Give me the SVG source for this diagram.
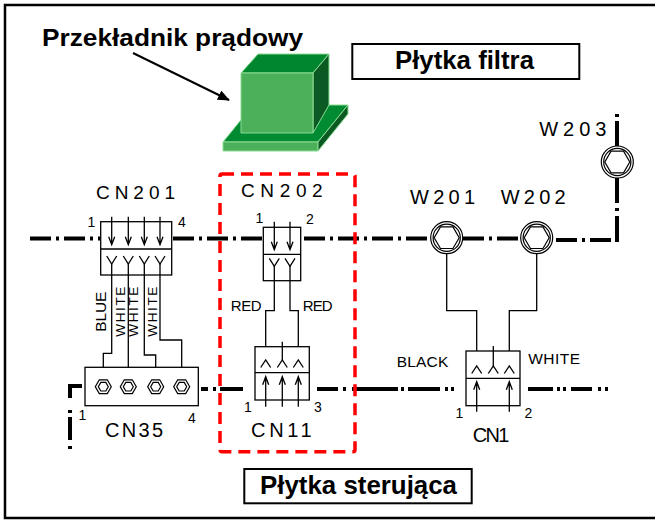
<svg xmlns="http://www.w3.org/2000/svg" width="655" height="526" viewBox="0 0 655 526">
  <defs>
    <style>
      .frame{fill:none;stroke:#000;stroke-width:2.5}
      .title{font-family:"Liberation Sans",Arial,sans-serif;font-weight:bold;fill:#000}
      .lbl{font-family:"Liberation Sans",Arial,sans-serif;fill:#000}
      .box{fill:#fff;stroke:#000;stroke-width:1.3}
      .w{fill:none;stroke:#000;stroke-width:1.3}
      .bus{fill:none;stroke:#000;stroke-width:4}
      .up{stroke-dasharray:21 5 3 5}
      .edge{stroke:#8bdc93;stroke-width:1;stroke-linejoin:round}
      .redbox{fill:none;stroke:#ff0000;stroke-width:3.5;stroke-dasharray:12 7}
    </style>
    <marker id="head" viewBox="0 0 12 10" refX="11" refY="5" markerWidth="12" markerHeight="10" markerUnits="userSpaceOnUse" orient="auto">
      <path d="M0,0 L12,5 L0,10 Z" fill="#000"/>
    </marker>
    <!-- screw terminal on the filter board -->
    <g id="wterm">
      <circle r="16" fill="#fff" stroke="#000" stroke-width="1.2"/>
      <circle r="13.6" fill="none" stroke="#000" stroke-width="1.2"/>
      <polygon points="12.5,0 6.25,10.8 -6.25,10.8 -12.5,0 -6.25,-10.8 6.25,-10.8" fill="none" stroke="#000" stroke-width="1.2"/>
    </g>
    <!-- screw terminal of CN35 -->
    <g id="hexterm">
      <polygon points="8,0 4,6.9 -4,6.9 -8,0 -4,-6.9 4,-6.9" fill="#fff" stroke="#000" stroke-width="1.2"/>
      <polygon points="5,0 2.5,4.3 -2.5,4.3 -5,0 -2.5,-4.3 2.5,-4.3" fill="none" stroke="#000" stroke-width="1.2"/>
    </g>
    <path id="adown" d="M0,0 V28 M-3,20 L0,28 L3,20" fill="none" stroke="#000" stroke-width="1.3"/>
    <path id="aup" d="M0,0 V-30 M-3,-22 L0,-30 L3,-22" fill="none" stroke="#000" stroke-width="1.3"/>
    <path id="yfork" d="M-5,0 L0,8 L5,0" fill="none" stroke="#000" stroke-width="1.3"/>
    <path id="caret" d="M-5,7.5 L0,0 L5,7.5" fill="none" stroke="#000" stroke-width="1.3"/>
  </defs>

  <rect width="655" height="526" fill="#fff"/>
  <path class="frame" d="M656,5 H5 V518 H656"/>

  <!-- current transformer -->
  <g id="ct">
    <polygon class="edge" points="223,142 318,142 348,105 253,105" fill="#008a32"/>
    <polygon class="edge" points="223,142 318,142 318,151 223,151" fill="#4caf5a"/>
    <polygon class="edge" points="318,142 348,105 348,114 318,151" fill="#0b5a23"/>
    <polygon class="edge" points="241,73 313,73 329,54 258,54" fill="#00862f"/>
    <polygon class="edge" points="313,73 329,54 329,105 313,133" fill="#0b5a23"/>
    <polygon class="edge" points="241,73 313,73 313,133 241,133" fill="#4caf5a"/>
  </g>
  <g id="ct-label">
    <text class="title" x="42" y="46" font-size="24" textLength="261" lengthAdjust="spacingAndGlyphs">Przekładnik prądowy</text>
    <line x1="133" y1="53" x2="229" y2="100" stroke="#000" stroke-width="2" marker-end="url(#head)"/>
  </g>

  <g id="filter-board">
    <rect x="352.3" y="44" width="227" height="35" fill="#fff" stroke="#000" stroke-width="2"/>
    <text class="title" x="395" y="69.3" font-size="25" textLength="139" lengthAdjust="spacingAndGlyphs">Płytka filtra</text>
  </g>
  <g id="control-board">
    <rect x="244.3" y="469" width="227.4" height="34.3" fill="#fff" stroke="#000" stroke-width="2"/>
    <text class="title" x="260" y="494.3" font-size="25" textLength="197" lengthAdjust="spacingAndGlyphs">Płytka sterująca</text>
  </g>

  <!-- board outlines (chain lines) and wiring -->
  <g id="connectors">
    <path class="bus up" d="M30,238.5 H100"/>
    <path class="bus up" d="M173,238.5 H262"/>
    <path class="bus up" d="M304,238.5 H430"/>
    <path class="bus up" d="M463,238.5 H520"/>
    <path class="bus up" d="M556,240 H619"/>
    <path class="bus" d="M617,114 V146" stroke-dasharray="3 4 25"/>
    <path class="bus" d="M617,178 V242" stroke-dasharray="25 5 3 5 40"/>

    <path class="bus" d="M82,386 H70 V398"/>
    <path class="bus" d="M70,410 V413 M70,417 V440 M70,446 V449"/>
    <path class="bus" d="M201,389 H243" stroke-dasharray="7 5 3 4 23"/>
    <path class="bus" d="M317,389 H455" stroke-dasharray="21 5 3 6 46 3 3 4 32 5 3 3 3"/>
    <path class="bus" d="M528,389 H610" stroke-dasharray="25 4 3 3 3 5 21 6 3 4 3"/>

    <!-- CN201 to CN35 -->
    <path class="w" d="M111.7,263 V353.3 H103.3 V380"/>
    <path class="w" d="M128.3,263 V380"/>
    <path class="w" d="M144.3,263 V355 H155.7 V380"/>
    <path class="w" d="M160,263 V340 H181.7 V380"/>
    <!-- CN202 to CN11 -->
    <path class="w" d="M274.3,266 V310.7 H265.7 V360"/>
    <path class="w" d="M290,266 V310.7 H298.3 V360"/>
    <!-- W201/W202 to CN1 -->
    <path class="w" d="M446.7,253.7 V310.7 H476.7 V366"/>
    <path class="w" d="M536.7,253.7 V310.7 H509.3 V366"/>

    <rect class="redbox" x="220" y="174" width="135" height="277.7" rx="2"/>
  </g>

  <g id="cn201">
    <rect class="box" x="100.7" y="221.7" width="71" height="53.3"/>
    <line class="w" x1="100.7" y1="249" x2="171.7" y2="249"/>
    <use href="#adown" x="111.7" y="216.7"/>
    <use href="#adown" x="128.3" y="216.7"/>
    <use href="#adown" x="144.3" y="216.7"/>
    <use href="#adown" x="160" y="216.7"/>
    <use href="#yfork" x="111.7" y="256"/>
    <use href="#yfork" x="128.3" y="256"/>
    <use href="#yfork" x="144.3" y="256"/>
    <use href="#yfork" x="160" y="256"/>
    <path class="w" d="M111.7,264 V275 M128.3,264 V275 M144.3,264 V275 M160,264 V275"/>
    <text class="lbl" x="96" y="199.3" font-size="19" textLength="79" lengthAdjust="spacing">CN201</text>
    <text class="lbl" x="87.5" y="226.7" font-size="14">1</text>
    <text class="lbl" x="178" y="226.7" font-size="14">4</text>
    <text class="lbl" font-size="15.5" transform="translate(106,331.7) rotate(-90)" textLength="40" lengthAdjust="spacing">BLUE</text>
    <text class="lbl" font-size="13.5" transform="translate(125,336.7) rotate(-90)" textLength="50" lengthAdjust="spacing">WHITE</text>
    <text class="lbl" font-size="13.5" transform="translate(138.3,336.7) rotate(-90)" textLength="50" lengthAdjust="spacing">WHITE</text>
    <text class="lbl" font-size="13.5" transform="translate(157,336.7) rotate(-90)" textLength="50" lengthAdjust="spacing">WHITE</text>
  </g>

  <g id="cn35">
    <rect class="box" x="85" y="367.3" width="113.3" height="38.4"/>
    <use href="#hexterm" x="103.3" y="386.7"/>
    <use href="#hexterm" x="128.3" y="386.7"/>
    <use href="#hexterm" x="155.7" y="386.7"/>
    <use href="#hexterm" x="181.7" y="386.7"/>
    <text class="lbl" x="78.5" y="420" font-size="14">1</text>
    <text class="lbl" x="188" y="422.7" font-size="14">4</text>
    <text class="lbl" x="105" y="436.7" font-size="20" textLength="58" lengthAdjust="spacing">CN35</text>
  </g>

  <g id="cn202">
    <rect class="box" x="263.3" y="227.3" width="37.4" height="53.4"/>
    <line class="w" x1="263.3" y1="254.3" x2="300.7" y2="254.3"/>
    <use href="#adown" x="274.3" y="221.7"/>
    <use href="#adown" x="290" y="221.7"/>
    <use href="#yfork" x="274.3" y="258.3"/>
    <use href="#yfork" x="290" y="258.3"/>
    <path class="w" d="M274.3,266 V281 M290,266 V281"/>
    <text class="lbl" x="241" y="197.3" font-size="19" textLength="81.7" lengthAdjust="spacing">CN202</text>
    <text class="lbl" x="255.5" y="223.3" font-size="14">1</text>
    <text class="lbl" x="306" y="224" font-size="14">2</text>
    <text class="lbl" x="230.7" y="310.7" font-size="15" textLength="31" lengthAdjust="spacing">RED</text>
    <text class="lbl" x="302.7" y="310.7" font-size="15" textLength="30" lengthAdjust="spacing">RED</text>
  </g>

  <g id="cn11">
    <rect class="box" x="255" y="346.7" width="54.3" height="53.3"/>
    <line class="w" x1="255" y1="372.7" x2="309.3" y2="372.7"/>
    <line class="w" x1="282.3" y1="341.7" x2="282.3" y2="360"/>
    <use href="#caret" x="265.7" y="360"/>
    <use href="#caret" x="282.3" y="360"/>
    <use href="#caret" x="298.3" y="360"/>
    <use href="#aup" x="265.7" y="406.7"/>
    <use href="#aup" x="282.3" y="406.7"/>
    <use href="#aup" x="298.3" y="406.7"/>
    <text class="lbl" x="244" y="411.7" font-size="14">1</text>
    <text class="lbl" x="314" y="411.7" font-size="14">3</text>
    <text class="lbl" x="251" y="437.3" font-size="20" textLength="60.7" lengthAdjust="spacing">CN11</text>
  </g>

  <g id="cn1">
    <rect class="box" x="466" y="351" width="54" height="54.7"/>
    <line class="w" x1="466" y1="378.3" x2="520" y2="378.3"/>
    <line class="w" x1="493.3" y1="346" x2="493.3" y2="366"/>
    <use href="#caret" x="476.7" y="366"/>
    <use href="#caret" x="493.3" y="366"/>
    <use href="#caret" x="509.3" y="366"/>
    <use href="#aup" x="476.7" y="411.7"/>
    <use href="#aup" x="509.3" y="411.7"/>
    <text class="lbl" x="455.5" y="418.3" font-size="14">1</text>
    <text class="lbl" x="524.5" y="418.3" font-size="14">2</text>
    <text class="lbl" x="472.7" y="441.7" font-size="20" textLength="36.6" lengthAdjust="spacing">CN1</text>
    <text class="lbl" x="396.7" y="367.3" font-size="15.5" textLength="51.6" lengthAdjust="spacing">BLACK</text>
    <text class="lbl" x="528.3" y="364" font-size="15.5" textLength="51.7" lengthAdjust="spacing">WHITE</text>
  </g>

  <g id="w201">
    <use href="#wterm" x="446.7" y="237.7"/>
    <text class="lbl" x="410" y="204" font-size="20" textLength="65" lengthAdjust="spacing">W201</text>
  </g>
  <g id="w202">
    <use href="#wterm" x="536.7" y="237.7"/>
    <text class="lbl" x="500.7" y="204" font-size="20" textLength="65" lengthAdjust="spacing">W202</text>
  </g>
  <g id="w203">
    <use href="#wterm" x="617.3" y="162"/>
    <text class="lbl" x="539.3" y="136" font-size="20" textLength="67" lengthAdjust="spacing">W203</text>
  </g>
</svg>
